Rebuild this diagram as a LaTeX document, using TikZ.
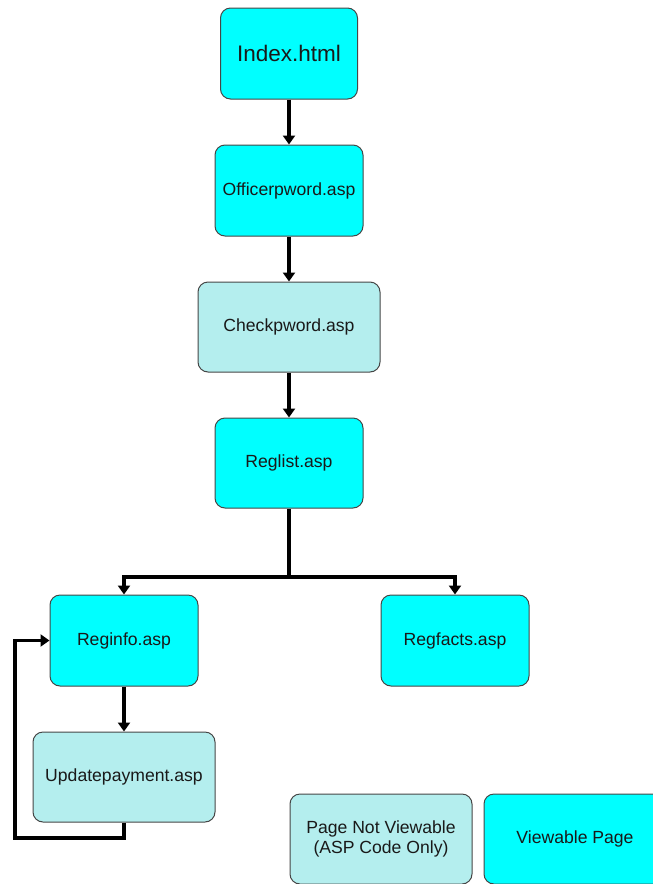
\documentclass[tikz,border=0pt]{standalone}
\usepackage{fontspec}
\setmainfont{Liberation Sans}
\usepackage{xcolor}
\usetikzlibrary{arrows.meta, positioning}

\definecolor{viewcyan}{RGB}{0,255,255}
\definecolor{codecyan}{RGB}{180,238,238}
\definecolor{boxedge}{RGB}{70,70,70}

\begin{document}
\begin{tikzpicture}[x=1pt, y=-1pt,
		page/.style={draw=boxedge, line width=1pt, rounded corners=10pt, minimum width=148pt, minimum height=91pt, align=center, font=\fontsize{17.6}{20}\selectfont, text=black!90},
		viewbox/.style={page, fill=viewcyan},
		codebox/.style={page, fill=codecyan, minimum width=182pt, minimum height=90pt},
		flow/.style={line width=3.2pt, -{Triangle[width=12pt,length=9pt]}}]
	\useasboundingbox (0,0) rectangle (653,884);
	\clip (0,0) rectangle (653,884);
	
	\node[viewbox, minimum width=137pt, font=\fontsize{22.5}{26}\selectfont] (index) at (289,53.5) {Index.html};
	\node[viewbox] (officer) at (289,190.5) {Officerpword.asp};
	\node[codebox] (check) at (289,327) {Checkpword.asp};
	\node[viewbox, minimum height=90pt] (reglist) at (289,463) {Reglist.asp};
	\node[viewbox] (reginfo) at (124,640.5) {Reginfo.asp};
	\node[viewbox] (regfacts) at (455,640.5) {Regfacts.asp};
	\node[codebox] (update) at (124,777) {Updatepayment.asp};
	
	% legend
	\node[codebox] (keycode) at (381,839) {Page Not Viewable\\(ASP Code Only)};
	\node[viewbox, minimum width=182pt, minimum height=90pt] (keyview) at (575,839) {Viewable Page};
	
	\coordinate (split) at (289,577);
	\coordinate (loopbot) at (15,838);
	
	\draw[flow] (index) -- (officer);
	\draw[flow] (officer) -- (check);
	\draw[flow] (check) -- (reglist);
	\draw[line width=3.2pt] (reglist) -- (split);
	\draw[flow] (split) -| (reginfo.north);
	\draw[flow] (split) -| (regfacts.north);
	\draw[flow] (reginfo) -- (update);
	\draw[flow] (update.south) |- (loopbot) |- (reginfo.west);
\end{tikzpicture}
\end{document}
